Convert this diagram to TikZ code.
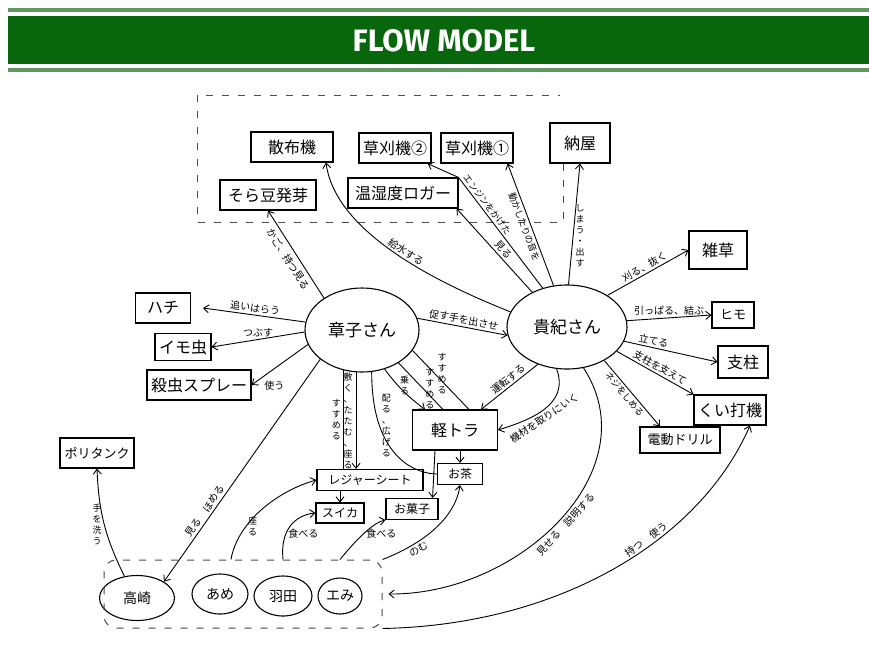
\documentclass[tikz,border=0pt]{standalone}
\usepackage{fontspec}
\setmainfont{Noto Sans CJK JP}
\newfontfamily\titlefont{Fira Sans}
\usetikzlibrary{arrows.meta, positioning, shapes.geometric}
\definecolor{headgreen}{RGB}{8,102,12}
\definecolor{rulegreen}{RGB}{96,150,96}

\begin{document}
\begin{tikzpicture}[x=1pt, y=-1pt,
    thing/.style={rectangle, draw, line width=1.1pt, minimum height=30pt, inner sep=3pt, font=\fontsize{16}{18}\selectfont},
    small/.style={thing, minimum height=21pt, font=\fontsize{12}{14}\selectfont},
    person/.style={ellipse, draw, line width=1.1pt, inner sep=1pt, font=\fontsize{17}{19}\selectfont},
    kid/.style={ellipse, draw, line width=1.1pt, inner sep=1pt, font=\fontsize{14}{16}\selectfont},
    act/.style={inner sep=2pt, font=\fontsize{10}{11}\selectfont},
    vact/.style={act, align=center, font=\fontsize{9}{11}\selectfont},
    flow/.style={-{Straight Barb[length=5pt,width=8pt]}, line width=0.9pt},
    tie/.style={line width=0.9pt},
    zone/.style={line width=1pt, gray!60!black, dash pattern=on 7pt off 9pt},
]
    \useasboundingbox (0,0) rectangle (869,648);
    \fill[white] (0,0) rectangle (869,648);

    % Header
    \fill[rulegreen] (8,8) rectangle (869,12);
    \fill[headgreen] (8,16) rectangle (869,64);
    \fill[rulegreen] (8,68) rectangle (869,72);
    \node[text=white, font=\titlefont\bfseries\fontsize{31}{33}\selectfont] (title) at (444,41) {FLOW MODEL};

    % People
    \node[person, minimum width=114pt, minimum height=84pt] (akiko) at (362,330) {章子さん};
    \node[person, minimum width=120pt, minimum height=84pt] (takanori) at (567,327) {貴紀さん};

    % Things in the field
    \node[thing, minimum width=82pt] (sanpu) at (292,147) {散布機};
    \node[thing, minimum width=72pt] (karu2) at (395,148) {草刈機②};
    \node[thing, minimum width=72pt] (karu1) at (477,148) {草刈機①};
    \node[thing, minimum width=60pt, minimum height=40pt] (naya) at (580,143) {納屋};
    \node[thing, minimum width=96pt] (soramame) at (268,195) {そら豆発芽};
    \node[thing, minimum width=110pt] (logger) at (403,193) {温湿度ロガー};
    \node[thing, minimum width=55pt] (hachi) at (163,308) {ハチ};
    \node[thing, minimum width=56pt, minimum height=27pt] (imomushi) at (183,347) {イモ虫};
    \node[thing, minimum width=104pt] (spray) at (199,385) {殺虫スプレー};
    \node[thing, minimum width=74pt, font=\fontsize{13}{15}\selectfont] (tank) at (97,453) {ポリタンク};
    \node[thing, minimum width=85pt, minimum height=40pt] (truck) at (455,430) {軽トラ};
    \node[small, minimum width=106pt] (sheet) at (370,480) {レジャーシート};
    \node[small, minimum width=45pt] (ocha) at (460,474) {お茶};
    \node[small, minimum width=48pt, minimum height=20pt] (suika) at (340,513) {スイカ};
    \node[small, minimum width=52pt] (okashi) at (412,509) {お菓子};
    \node[thing, minimum width=58pt, minimum height=38pt] (zassou) at (718,250) {雑草};
    \node[thing, minimum width=42pt, minimum height=26pt, font=\fontsize{13}{15}\selectfont] (himo) at (733,315) {ヒモ};
    \node[thing, minimum width=50pt, minimum height=32pt] (shichu) at (743,362) {支柱};
    \node[thing, minimum width=72pt] (kuiuchi) at (730,410) {くい打機};
    \node[thing, minimum width=80pt, minimum height=26pt, font=\fontsize{13}{15}\selectfont] (drill) at (680,440) {電動ドリル};

    % Children
    \node[kid, minimum width=75pt, minimum height=45pt] (takasaki) at (137,598) {高崎};
    \node[kid, minimum width=56pt, minimum height=40pt] (ame) at (220,594) {あめ};
    \node[kid, minimum width=58pt, minimum height=40pt] (haneda) at (283,596) {羽田};
    \node[kid, minimum width=44pt, minimum height=36pt] (emi) at (340,596) {エみ};
    \node[zone, draw, rectangle, rounded corners=12pt, minimum width=278pt, minimum height=68pt] (kids) at (243,594) {};

    % Shed zone
    \coordinate (zonecorner) at (563,222);
    \draw[zone] (naya.south -| zonecorner) -- (zonecorner) -- (197,222) -- (197,95) -- (560,95);

    % Akiko's flows
    \draw[flow] (akiko.140) -- node[act, sloped, below=2pt] {かご、持つ見る} (soramame.south);
    \draw[flow] (akiko.172) -- node[act, sloped, above] {追いはらう} ([xshift=12pt]hachi.east);
    \draw[flow] (akiko.182) -- node[act, above] {つぶす} (imomushi.east);
    \draw[flow] (akiko.195) -- node[act, below right=0pt and 2pt, pos=0.85] {使う} (spray.east);
    \draw[flow] (akiko.215) -- node[act, sloped, above, pos=0.7] {見る\quad ほめる} (takasaki.north east);
    \draw[tie] (akiko.245) -- node[vact, left] {す\\す\\め\\る} (akiko.245 |- sheet.north);
    \draw[flow] (akiko.262) -- node[vact, left=1pt] {敷\\く\\、\\た\\た\\む\\、\\座\\る} (akiko.262 |- sheet.north);
    \draw[tie] (akiko.283) .. controls +(0,90) and (420,474) .. node[vact, right, pos=0.25] {配\\る\\、\\広\\げ\\る} (ocha.west);
    \draw[flow] (akiko.300) to[bend right=8] node[vact, right, pos=0.35] {乗\\る} ([xshift=-30pt]truck.north);
    \draw[tie] (akiko.318) -- node[vact, right, pos=0.55] {す\\す\\め\\る} ([xshift=-12pt]truck.north);
    \draw[tie] (akiko.338) -- node[vact, right, pos=0.4] {す\\す\\め\\る} ([xshift=14pt]truck.north);
    \draw[flow] (akiko.12) -- node[act, sloped, above] {促す手を出させ} (takanori.188);

    % Takanori's flows
    \draw[flow] (takanori.165) .. controls (430,280) and (335,230) .. node[act, sloped, above, pos=0.45] {給水する} ([xshift=34pt]sanpu.south);
    \draw[flow] (takanori.135) -- node[act, sloped, above, pos=0.45] {見る} ([xshift=-2pt]logger.south east);
    \draw[flow] (takanori.122) -- node[act, sloped, above, pos=0.72, font=\fontsize{9}{10}\selectfont] {エンジンをかけた} (logger.north east) -- ([xshift=-4pt]karu2.south east);
    \draw[flow] (takanori.108) -- node[act, sloped, below, pos=0.5, font=\fontsize{9}{10}\selectfont] {動かしたりの音を} ([xshift=-6pt]karu1.south east);
    \draw[flow] (takanori.88) -- node[vact, right, pos=0.4] {し\\ま\\う\\・\\出\\す} (naya.south);
    \draw[flow] (takanori.38) -- node[act, sloped, above] {刈る、抜く} (zassou.west);
    \draw[flow] (takanori.6) -- node[act, above] {引っぱる、結ぶ} (himo.west);
    \draw[flow] (takanori.-14) -- node[act, sloped, above, pos=0.3] {立てる} (shichu.west);
    \draw[flow] (takanori.-26) -- node[act, sloped, above, pos=0.52] {支柱を支えて} (kuiuchi.north west);
    \draw[flow] (takanori.-42) -- node[act, sloped, below, pos=0.45, font=\fontsize{9}{10}\selectfont] {ネジをしめる} ([xshift=-20pt]drill.north);
    \draw[flow] (takanori.232) -- node[act, sloped, above, pos=0.45] {運転する} ([xshift=26pt]truck.north);
    \draw[flow] (takanori.256) .. controls (570,405) and (530,420) .. node[act, sloped, below, pos=0.55] {機材を取りにいく} (truck.east);
    \draw[flow] (takanori.292) .. controls (650,470) and (520,595) .. node[act, sloped, below, pos=0.5] {見せる\quad 説明する} ([xshift=6pt]kids.east);
    \draw[flow] (kids.south east) .. controls (560,625) and (700,540) .. node[act, sloped, above, pos=0.6] {持つ\quad 使う} ([xshift=20pt]kuiuchi.south);

    % Loading and eating
    \draw[flow] (truck.south -| ocha.north) -- (ocha.north);
    \draw[flow] ([xshift=-20pt]truck.south) -- ([xshift=-6pt]okashi.north east);
    \draw[flow] (sheet.south -| suika.north) -- (suika.north);
    \draw[flow] (takasaki.120) to[bend left=12] node[vact, left, pos=0.5] {手\\を\\洗\\う} (tank.south);
    \draw[flow] (ame.60 |- kids.north) .. controls (238,520) and (280,490) .. node[vact, right, pos=0.3] {座\\る} (sheet.west);
    \draw[flow] (haneda.north |- kids.north) .. controls (280,530) and (295,515) .. node[act, right, pos=0.35] {食べる} (suika.west);
    \draw[flow] (emi.north |- kids.north) .. controls (360,535) and (375,522) .. node[act, right, pos=0.45] {食べる} (okashi.south west);
    \draw[flow] (kids.north east) .. controls (420,545) and (455,520) .. node[act, sloped, below, pos=0.3] {のむ} (ocha.south);
\end{tikzpicture}
\end{document}
